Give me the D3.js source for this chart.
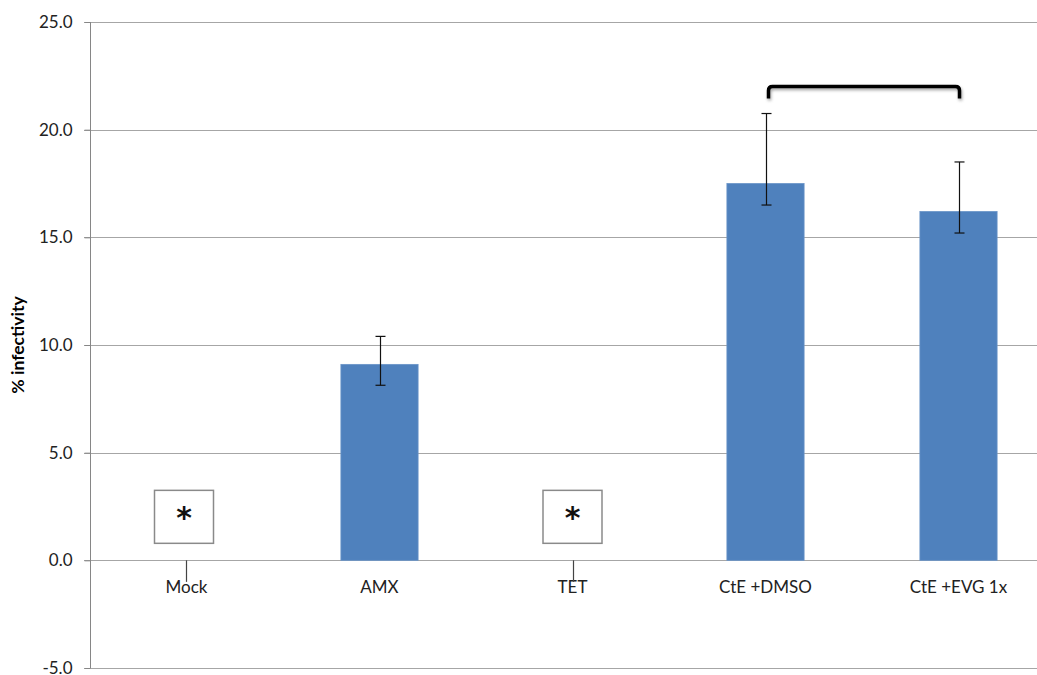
<!DOCTYPE html>
<html><head><meta charset="utf-8">
<script src="https://cdn.jsdelivr.net/npm/d3@7"></script>
<style>
html,body{margin:0;padding:0;background:#fff;}
svg{display:block;font-family:Lato,"Open Sans",sans-serif;}
</style></head>
<body>
<svg id="c" width="1037" height="675"></svg>
<script>
const categories = ["Mock","AMX","TET","CtE +DMSO","CtE +EVG 1x"];
const values = [0, 9.1, 0, 17.5, 16.2];
const errHigh = [0, 10.4, 0, 20.75, 18.5];
const errLow = [-1.0, 8.13, -1.0, 16.5, 15.2];
const starCats = ["Mock","TET"];
const yTicks = [-5, 0, 5, 10, 15, 20, 25];
const bracket = {from:"CtE +DMSO", to:"CtE +EVG 1x", top:22.0, leg:21.45};

const svg = d3.select("#c");
const x = d3.scaleBand().domain(categories).range([90, 1055]).paddingInner(0.6).paddingOuter(0.3);
const y = d3.scaleLinear().domain([-5, 25]).range([668, 22]);

// gridlines
svg.append("g").selectAll("line").data(yTicks).join("line")
  .attr("x1", 84).attr("x2", 1037)
  .attr("y1", d => Math.round(y(d)) + 0.5).attr("y2", d => Math.round(y(d)) + 0.5)
  .attr("stroke", "#a6a6a6").attr("stroke-width", 1.2);

// y axis
const fmt = d => d3.format(".1f")(d).replace("\u2212", "-");
const yAxis = d3.axisLeft(y).tickValues(yTicks).tickFormat(fmt).tickSize(6).tickPadding(12);
const ga = svg.append("g").attr("transform", "translate(90.5,0)").call(yAxis);
ga.select(".domain").attr("stroke", "#868686").attr("d", `M0,${y(25)}V${y(-5)}`);
ga.selectAll(".tick line").attr("stroke", "#868686");
ga.selectAll(".tick text").attr("font-size", 17).attr("fill", "#222").attr("font-family", "Lato,sans-serif");

// y label
svg.append("text").attr("transform", `translate(24,${(y(25)+y(-5))/2}) rotate(-90)`)
  .attr("text-anchor", "middle").attr("font-weight", "bold").attr("font-size", 17.5).attr("fill", "#000")
  .text("% infectivity");

// bars
svg.append("g").selectAll("rect").data(categories).join("rect")
  .attr("x", d => x(d)).attr("width", x.bandwidth())
  .attr("y", (d,i) => y(Math.max(0, values[i])))
  .attr("height", (d,i) => Math.abs(y(values[i]) - y(0)))
  .attr("fill", "#4f81bd").attr("stroke", "#6a94c8").attr("stroke-width", 0.8);

// category labels
svg.append("g").selectAll("text").data(categories).join("text")
  .attr("x", d => x(d) + x.bandwidth()/2).attr("y", 593)
  .attr("text-anchor", "middle").attr("font-size", 17).attr("fill", "#222")
  .text(d => d);

// error bars
const eg = svg.append("g").attr("stroke", "#111").attr("stroke-width", 1.2);
categories.forEach((c, i) => {
  const cx = Math.round(x(c) + x.bandwidth()/2) + 0.5;
  const star = starCats.includes(c);
  eg.append("line").attr("x1", cx).attr("x2", cx).attr("y1", y(errHigh[i])).attr("y2", y(errLow[i]))
    .attr("stroke", star ? "#444" : "#111");
  if (!star) {
    [errHigh[i], errLow[i]].forEach(v => {
      eg.append("line").attr("x1", cx - 5).attr("x2", cx + 5).attr("y1", y(v)).attr("y2", y(v));
    });
  }
});

// star boxes
const sg = svg.append("g");
starCats.forEach(c => {
  const cx = x(c) + x.bandwidth()/2 - (c === "Mock" ? 2.5 : 0);
  sg.append("rect").attr("x", cx - 29.5).attr("y", y(3.25)).attr("width", 59).attr("height", y(0.79) - y(3.25))
    .attr("fill", "#fff").attr("stroke", "#8a8a8a").attr("stroke-width", 1.5);
  sg.append("text").attr("x", cx).attr("y", y(2.22) + 15.5).attr("text-anchor", "middle")
    .attr("font-size", 30).attr("font-weight", "bold").attr("font-family", "DejaVu Sans,sans-serif")
    .attr("fill", "#111").text("*");
});

// bracket
const defs = svg.append("defs");
const f = defs.append("filter").attr("id", "sh").attr("x", "-10%").attr("y", "-50%").attr("width", "120%").attr("height", "200%");
f.append("feDropShadow").attr("dx", 1).attr("dy", 2).attr("stdDeviation", 1.5).attr("flood-color", "#000").attr("flood-opacity", 0.35);
const bx1 = x(bracket.from) + x.bandwidth()/2 + 3, bx2 = x(bracket.to) + x.bandwidth()/2 + 1;
const by = y(bracket.top), bl = y(bracket.leg);
svg.append("path")
  .attr("d", `M${bx1},${bl} V${by+4} Q${bx1},${by} ${bx1+4},${by} H${bx2-4} Q${bx2},${by} ${bx2},${by+4} V${bl}`)
  .attr("fill", "none").attr("stroke", "#000").attr("stroke-width", 3.5).attr("filter", "url(#sh)");
</script>
</body></html>
